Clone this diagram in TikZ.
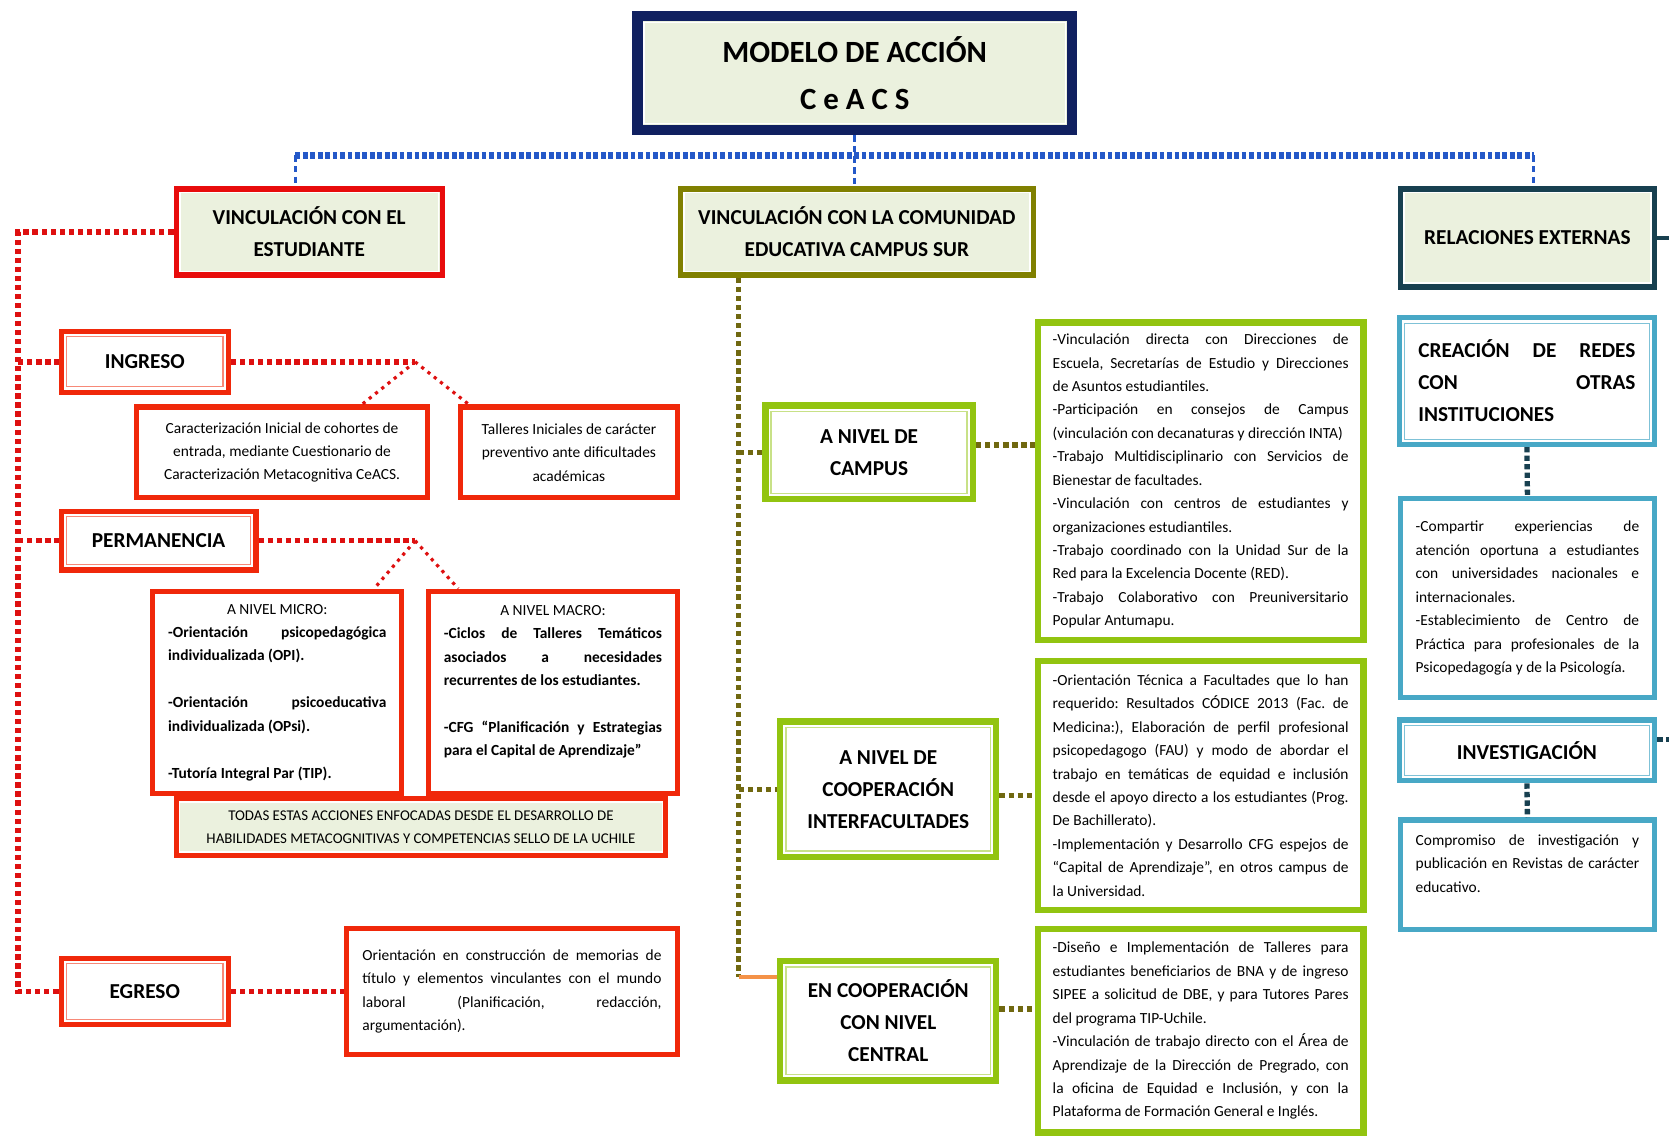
\documentclass[tikz,border=0pt]{standalone}
\usepackage{fontspec}
\setmainfont{Carlito}
\usetikzlibrary{calc}
\setlength{\parindent}{0pt}
\frenchspacing

\definecolor{navyb}{RGB}{16,32,96}
\definecolor{redh}{RGB}{232,12,12}
\definecolor{redb}{RGB}{240,40,10}
\definecolor{redd}{RGB}{222,16,16}
\definecolor{oliveb}{RGB}{128,128,0}
\definecolor{olived}{RGB}{112,104,16}
\definecolor{greenb}{RGB}{146,196,16}
\definecolor{tealh}{RGB}{24,64,80}
\definecolor{tealb}{RGB}{72,168,198}
\definecolor{busb}{RGB}{36,88,200}
\definecolor{paleg}{RGB}{235,241,222}
\definecolor{orangel}{RGB}{244,146,72}

\tikzset{
  titlebox/.style={draw=navyb, line width=10, fill=paleg, align=center, font=\fontsize{29}{44}\selectfont\bfseries},
  headbox/.style={draw=#1, line width=5, fill=paleg, align=center, font=\fontsize{20}{30}\selectfont\bfseries},
  stagebox/.style={draw=redb, line width=5, fill=white, align=center, font=\fontsize{20}{30}\selectfont\bfseries},
  redtext/.style={draw=redb, line width=5, fill=white, font=\fontsize{14.5}{22}\selectfont},
  levelbox/.style={draw=greenb, line width=6, fill=white, align=center, font=\fontsize{20}{30}\selectfont\bfseries},
  greentext/.style={draw=greenb, line width=6, fill=white, text width=278pt, align=justify, font=\fontsize{14.5}{22}\selectfont},
  netbox/.style={draw=tealb, line width=5, fill=white, font=\fontsize{20}{30}\selectfont\bfseries},
  tealtext/.style={draw=tealb, line width=5, fill=white, text width=210pt, align=justify, font=\fontsize{14.5}{22}\selectfont},
  reddot/.style={draw=redd, line width=5, dash pattern=on 5 off 3.5},
  reddiag/.style={draw=redd, line width=3, dash pattern=on 3 off 4.5},
  busline/.style={draw=busb, line width=6, dash pattern=on 4.5 off 2.5},
  busdrop/.style={draw=busb, line width=3, dash pattern=on 6 off 4},
  olivedot/.style={draw=olived, line width=5, dash pattern=on 5 off 3.5},
  tealdot/.style={draw=tealh, line width=5, dash pattern=on 5 off 3},
}

\begin{document}
\begin{tikzpicture}[x=1pt,y=1pt,yscale=-1,xscale=1]
\useasboundingbox (0,0) rectangle (1568,1069);

% Title
\node[titlebox, minimum width=408pt, minimum height=107pt] (title) at (803,68.5) {MODELO DE ACCIÓN\\C e A C S};

% Headers
\node[headbox=redh, minimum width=250pt, minimum height=81pt] (vest) at (290.5,218) {VINCULACIÓN CON EL\\ESTUDIANTE};
\node[headbox=oliveb, minimum width=332pt, minimum height=81pt] (vcom) at (805,218) {VINCULACIÓN CON LA COMUNIDAD\\EDUCATIVA CAMPUS SUR};
\node[headbox=tealh, minimum width=239pt, minimum height=92pt] (rext) at (1435,223.5) {RELACIONES EXTERNAS};

% Left column
\node[stagebox, minimum width=157pt, minimum height=57pt] (ing) at (136,340) {INGRESO};
\node[redtext, align=center, minimum width=273pt, minimum height=85pt] (car) at (265,425) {Caracterización Inicial de cohortes de\\entrada, mediante Cuestionario de\\Caracterización Metacognitiva CeACS.};
\node[redtext, align=center, minimum width=204pt, minimum height=85pt] (tal) at (534.5,425) {Talleres Iniciales de carácter\\preventivo ante dificultades\\académicas};
\node[stagebox, minimum width=183pt, minimum height=55pt] (perm) at (149,508) {PERMANENCIA};
\node[redtext, text width=205pt, align=justify, minimum width=234pt, minimum height=190pt] (micro) at (260.5,650.5) {{\centering A NIVEL MICRO:\par}\bfseries -Orientación psicopedagógica\linebreak individualizada (OPI).\par\vspace{22pt}-Orientación psicoeducativa\linebreak individualizada (OPsi).\par\vspace{22pt}-Tutoría Integral Par (TIP).};
\node[redtext, text width=205pt, align=justify, minimum width=234pt, minimum height=190pt] (macro) at (519.5,650.5) {{\centering A NIVEL MACRO:\par}\bfseries -Ciclos de Talleres Temáticos\linebreak asociados a necesidades\linebreak recurrentes de los estudiantes.\par\vspace{22pt}-CFG “Planificación y Estrategias\linebreak para el Capital de Aprendizaje”\par\mbox{}};
\node[redtext, fill=paleg, align=center, font=\fontsize{14}{21}\selectfont, minimum width=460pt, minimum height=53pt] (todas) at (395.5,777) {TODAS ESTAS ACCIONES ENFOCADAS DESDE EL DESARROLLO DE\\HABILIDADES METACOGNITIVAS Y COMPETENCIAS SELLO DE LA UCHILE};
\node[stagebox, minimum width=157pt, minimum height=62pt] (egr) at (136,931.5) {EGRESO};
\node[redtext, text width=281pt, align=justify, minimum width=311pt, minimum height=118pt] (ori) at (481,931.5) {Orientación en construcción de memorias de\linebreak título y elementos vinculantes con el mundo\linebreak laboral (Planificación, redacción,\linebreak argumentación).};

% Middle column
\node[levelbox, minimum width=195pt, minimum height=88pt] (camp) at (816.5,425) {A NIVEL DE\\CAMPUS};
\node[levelbox, minimum width=203pt, minimum height=127pt] (inter) at (834.5,741.5) {A NIVEL DE\\COOPERACIÓN\\INTERFACULTADES};
\node[levelbox, minimum width=203pt, minimum height=112pt] (cen) at (834.5,959) {EN COOPERACIÓN\\CON NIVEL\\CENTRAL};
\node[greentext, minimum width=306pt, minimum height=298pt] (ctxt) at (1128,452) {-Vinculación directa con Direcciones de\linebreak Escuela, Secretarías de Estudio y Direcciones\linebreak de Asuntos estudiantiles.\par -Participación en consejos de Campus\linebreak (vinculación con decanaturas y dirección INTA)\par -Trabajo Multidisciplinario con Servicios de\linebreak Bienestar de facultades.\par -Vinculación con centros de estudiantes y\linebreak organizaciones estudiantiles.\par -Trabajo coordinado con la Unidad Sur de la\linebreak Red para la Excelencia Docente (RED).\par -Trabajo Colaborativo con Preuniversitario\linebreak Popular Antumapu.};
\node[greentext, minimum width=306pt, minimum height=234pt] (itxt) at (1128,738) {-Orientación Técnica a Facultades que lo han\linebreak requerido: Resultados CÓDICE 2013 (Fac. de\linebreak Medicina:), Elaboración de perfil profesional\linebreak psicopedagogo (FAU) y modo de abordar el\linebreak trabajo en temáticas de equidad e inclusión\linebreak desde el apoyo directo a los estudiantes (Prog.\linebreak De Bachillerato).\par -Implementación y Desarrollo CFG espejos de\linebreak “Capital de Aprendizaje”, en otros campus de\linebreak la Universidad.};
\node[greentext, minimum width=306pt, minimum height=191pt] (ntxt) at (1128,968.5) {-Diseño e Implementación de Talleres para\linebreak estudiantes beneficiarios de BNA y de ingreso\linebreak SIPEE a solicitud de DBE, y para Tutores Pares\linebreak del programa TIP-Uchile.\par -Vinculación de trabajo directo con el Área de\linebreak Aprendizaje de la Dirección de Pregrado, con\linebreak la oficina de Equidad e Inclusión, y con la\linebreak Plataforma de Formación General e Inglés.};

% Right column
\node[netbox, text width=204pt, align=justify, minimum width=240pt, minimum height=119pt] (redes) at (1434.5,358) {CREACIÓN DE REDES\linebreak CON OTRAS\linebreak INSTITUCIONES};
\node[tealtext, minimum width=239pt, minimum height=187pt] (comp) at (1435,562) {-Compartir experiencias de\linebreak atención oportuna a estudiantes\linebreak con universidades nacionales e\linebreak internacionales.\par -Establecimiento de Centro de\linebreak Práctica para profesionales de la\linebreak Psicopedagogía y de la Psicología.};
\node[netbox, align=center, minimum width=240pt, minimum height=57pt] (inv) at (1434.5,705) {INVESTIGACIÓN};
\node[tealtext, minimum width=239pt, minimum height=103pt] (compro) at (1435,822) {Compromiso de investigación y\linebreak publicación en Revistas de carácter\linebreak educativo.\par\mbox{}};

% inner frame lines
\foreach \n/\c/\i in {title/white/11, vest/white/6, vcom/white/6, rext/white/6, todas/white/5.5}
  \draw[\c, line width=1.5] ([shift={(\i,\i)}]\n.north west) rectangle ([shift={(-\i,-\i)}]\n.south east);
\foreach \n in {ing,perm,egr}
  \draw[redb!55, line width=1] ([shift={(7.5,7.5)}]\n.north west) rectangle ([shift={(-7.5,-7.5)}]\n.south east);
\foreach \n in {camp,inter,cen}
  \draw[greenb!50, line width=1.5] ([shift={(8.5,8.5)}]\n.north west) rectangle ([shift={(-8.5,-8.5)}]\n.south east);
\foreach \n in {redes,inv}
  \draw[tealb!70, line width=1] ([shift={(7.5,7.5)}]\n.north west) rectangle ([shift={(-7.5,-7.5)}]\n.south east);

% Connectors
\coordinate (bus) at (805,146);
\coordinate (lbus) at (17,213);
\coordinate (ingfork) at (390,340);
\coordinate (permfork) at (390,508);
\coordinate (otrunk) at (694,918);

\draw[busdrop] (title.south) -- (title.south |- vcom.north);
\draw[busline] ([xshift=-13]vest.north |- bus) -- ([xshift=6]rext.north |- bus);
\draw[busdrop] ([xshift=-13]vest.north |- bus) -- ([xshift=-13]vest.north);
\draw[busdrop] ([xshift=6]rext.north |- bus) -- ([xshift=6]rext.north);

\draw[reddot] (vest.west) -| (lbus |- egr.west) -- (egr.west);
\draw[reddot] (lbus |- ing.west) -- (ing.west);
\draw[reddot] (lbus |- perm.west) -- (perm.west);
\draw[reddot] (ing.east) -- (ingfork);
\draw[reddiag] (ingfork) -- ([xshift=75]car.north);
\draw[reddiag] (ingfork) -- ([xshift=-94]tal.north);
\draw[reddot] (perm.east) -- (permfork);
\draw[reddiag] (permfork) -- ([xshift=91]micro.north);
\draw[reddiag] (permfork) -- ([xshift=-89]macro.north);
\draw[reddot] (egr.east) -- (ori.west);

\draw[olivedot] ([xshift=-111]vcom.south) -- (otrunk);
\draw[olivedot] (camp.west -| otrunk) -- (camp.west);
\draw[olivedot] (inter.west -| otrunk) -- (inter.west);
\draw[orangel, line width=4] (otrunk) -- (otrunk -| cen.west);
\draw[olivedot] ([yshift=-7]camp.east) -- ([yshift=-7]camp.east -| ctxt.west);
\draw[olivedot] ([yshift=6]inter.east) -- ([yshift=6]inter.east -| itxt.west);
\draw[olivedot] ([yshift=-11]cen.east) -- ([yshift=-11]cen.east -| ntxt.west);

\draw[tealdot] (redes.south) -- (comp.north);
\draw[tealdot] (inv.south) -- (compro.north);
\draw[tealh, line width=4] (rext.east) -- ++(12,0);
\draw[tealdot] ([yshift=-10]inv.east) -- ++(12,0);
\end{tikzpicture}
\end{document}
